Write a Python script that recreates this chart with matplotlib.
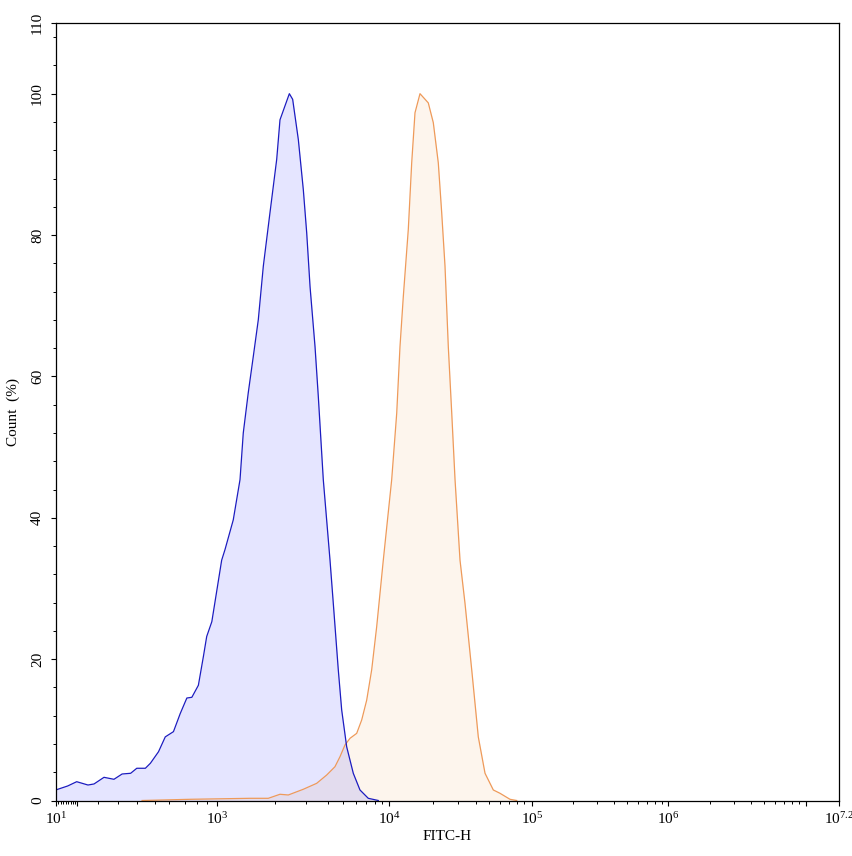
import numpy as np
import matplotlib
matplotlib.use('Agg')
import matplotlib.pyplot as plt
from matplotlib.ticker import FixedLocator, FixedFormatter

plt.rcParams['font.family'] = ['Liberation Serif', 'DejaVu Serif']
plt.rcParams['mathtext.fontset'] = 'custom'
plt.rcParams['mathtext.rm'] = 'Liberation Serif'

# FITC-H values and Count (%)
blue_x = [11, 57, 100, 148, 179, 227, 276, 318, 362, 397, 443, 472, 523, 570, 625, 668,
          715, 757, 816, 866, 900, 950, 1000, 1061, 1104, 1218, 1320, 1372, 1456, 1545,
          1640, 1741, 1885, 2045, 2135, 2413, 2520, 2714, 2897, 3028, 3163, 3376, 3523,
          3761, 4119, 4321, 4647, 4884, 5254, 5791, 6396, 7241, 8441]
blue_y = [1.5, 2.05, 2.66, 2.19, 2.34, 3.28, 3.0, 3.75, 3.85, 4.56, 4.56, 5.27, 6.9, 9.0,
          9.74, 12.3, 14.5, 14.6, 16.3, 20.4, 23.2, 25.3, 29.6, 34.0, 35.5, 39.7, 45.4,
          52.0, 57.7, 62.8, 68.0, 75.6, 83.2, 90.7, 96.3, 100.0, 99.2, 93.5, 86.4, 80.3,
          72.7, 64.2, 57.2, 45.4, 34.0, 27.9, 18.5, 12.8, 7.6, 3.85, 1.49, 0.31, 0.0]

orange_x = [425, 743, 1486, 1847, 2135, 2380, 2897, 3450, 3934, 4427, 4765, 5126, 5519,
            6090, 6565, 7073, 7617, 8222, 9136, 10385, 11240, 11834, 12470, 13490,
            14230, 14990, 16220, 18480, 20000, 21690, 22910, 24180, 25510, 26970, 28450,
            30860, 33510, 37450, 41780, 46770, 53700, 60000, 71130, 79240]
orange_y = [0.0, 0.17, 0.31, 0.31, 0.88, 0.78, 1.59, 2.43, 3.61, 4.78, 6.2, 7.86, 8.8,
            9.5, 11.4, 14.2, 18.5, 24.6, 34.0, 45.4, 54.8, 64.2, 71.3, 80.8, 90.2,
            97.3, 100.0, 98.7, 95.9, 90.2, 83.2, 75.6, 64.2, 54.8, 45.4, 34.0, 27.9,
            18.5, 9.0, 3.85, 1.49, 1.02, 0.17, 0.0]

x_major = [10, 100, 1e3, 1e4, 1e5, 1e6, 1e7, 10 ** 7.2]
x_major_labels = [r'$\mathregular{10^{1}}$', '', r'$\mathregular{10^{3}}$',
                  r'$\mathregular{10^{4}}$', r'$\mathregular{10^{5}}$',
                  r'$\mathregular{10^{6}}$', '', r'$\mathregular{10^{7.2}}$']
y_major = [0, 20, 40, 60, 80, 100, 110]

# axis calibration of the instrument's biexponential-like display
cal_vals = np.array([10, 100, 200, 300, 400, 500, 600, 700, 800, 900, 1e3, 2e3, 3e3, 4e3,
                     5e3, 6e3, 7e3, 8e3, 9e3, 1e4, 2e4, 3e4, 4e4, 5e4, 6e4, 7e4, 8e4, 9e4,
                     1e5, 1e6, 1e7, 10 ** 7.2])
cal_pos = np.array([55.7, 76.7, 97.7, 118.3, 137.3, 155, 169.3, 185, 196.7, 206.7, 216.7,
                    275, 306, 328, 343.3, 355.7, 366, 375, 382.3, 389.3, 433.3, 458.3,
                    475.7, 489, 500, 509, 517.3, 524.3, 531.7, 668.3, 805.7, 839])
cal_k = np.arcsinh(cal_vals / 100)


def fwd(x):
    return np.interp(np.arcsinh(np.asarray(x, dtype=float) / 100), cal_k, cal_pos)


def inv(p):
    return 100 * np.sinh(np.interp(np.asarray(p, dtype=float), cal_pos, cal_k))


fig = plt.figure(figsize=(8.53, 8.56), dpi=100)
ax = fig.add_axes([55.7 / 853, (856 - 800.5) / 856, (839 - 55.7) / 853, (800.5 - 23) / 856])
ax.set_xscale('function', functions=(fwd, inv))

ax.fill_between(orange_x, orange_y, 0, color='#f5a050', alpha=0.1, lw=0)
ax.fill_between(blue_x, blue_y, 0, color='#0000ff', alpha=0.1, lw=0)
ax.plot(orange_x, orange_y, color='#ee9a5a', lw=0.9)
ax.plot(blue_x, blue_y, color='#1c1cc0', lw=0.9)

ax.set_xlim(10, 10 ** 7.2)
ax.set_ylim(0, 110)

minors = []
for d in [10, 100, 1e3, 1e4, 1e5, 1e6]:
    minors += [d * k for k in range(2, 10)]
ax.xaxis.set_major_locator(FixedLocator(x_major))
ax.xaxis.set_major_formatter(FixedFormatter(x_major_labels))
ax.xaxis.set_minor_locator(FixedLocator(minors))
ax.xaxis.set_minor_formatter(FixedFormatter([''] * len(minors)))

ax.yaxis.set_major_locator(FixedLocator(y_major))
ax.yaxis.set_minor_locator(FixedLocator([v for v in range(4, 110, 4) if v % 20 != 0]))
for lab in ax.get_yticklabels():
    lab.set_rotation(90)
    lab.set_va('center')

ax.tick_params(which='major', length=3.5, width=0.8, labelsize=11, pad=4, color='black')
ax.tick_params(which='minor', length=2, width=0.7)
ax.tick_params(axis='y', pad=5)
for s in ax.spines.values():
    s.set_linewidth(0.9)

ax.set_xlabel('FITC-H', fontsize=11, labelpad=2)
ax.set_ylabel('Count  (%)', fontsize=11, labelpad=8)

fig.savefig('out.png', dpi=100)
